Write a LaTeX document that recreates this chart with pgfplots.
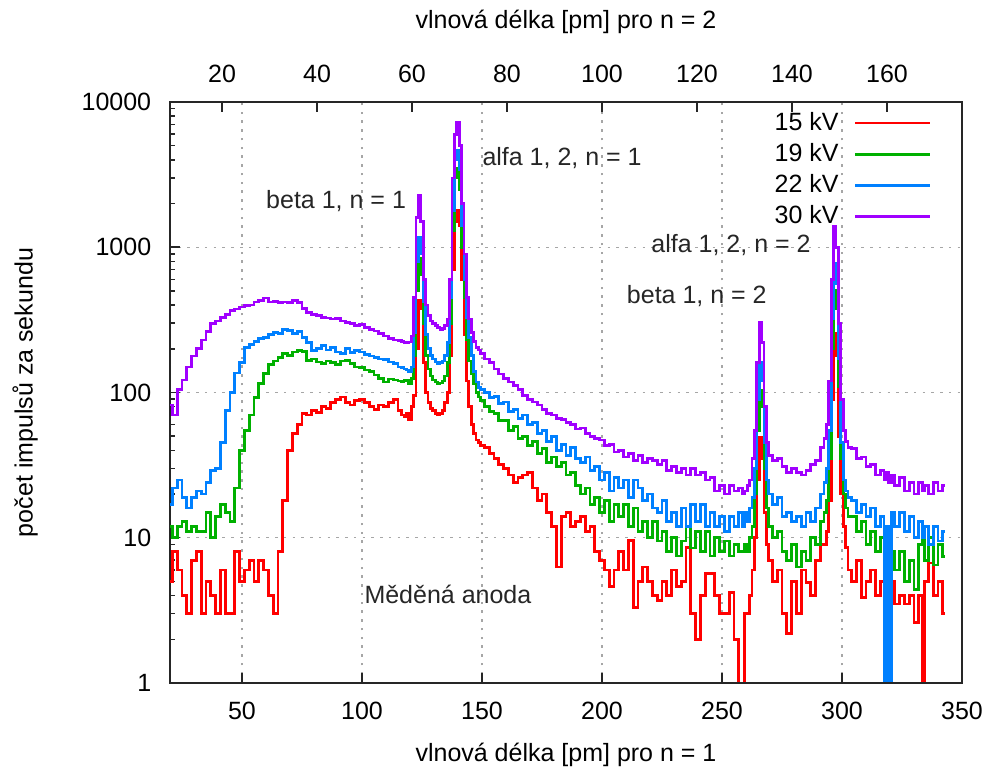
\documentclass[border=0pt]{standalone}
\usepackage{fontspec}
\setmainfont{Liberation Sans}
\usepackage{pgfplots}
\pgfplotsset{compat=1.18}
\usepackage{pgfplotstable}
\definecolor{cR}{RGB}{255,0,0}
\definecolor{cG}{RGB}{0,176,0}
\definecolor{cB}{RGB}{0,128,255}
\definecolor{cP}{RGB}{160,0,255}
\pgfplotstableread{
x r g b p
20 5 12 17 82
22 8 10 22 70
24 6 12 25 105
26 4 13 19 122
28 3 11 16 150
30 7 12 19 178
32 8 11 21 200
34 3 11 20 230
36 5 15 24 262
38 4 10 29 300
40 3 14 30 310
42 6 17 45 330
44 3 15 75 345
46 3 13 100 365
48 8 22 136 375
50 5 40 160 388
52 6 55 205 395
54 7 70 215 400
56 5 92 225 420
58 7 115 235 430
60 6 135 240 447
62 4 155 250 420
64 3 165 258 425
66 8 175 255 415
68 18 186 270 420
70 40 180 268 418
72 52 190 255 430
74 60 195 262 415
76 72 192 240 380
78 70 166 220 355
80 75 170 195 345
82 73 162 200 338
84 80 158 210 330
86 78 165 196 326
88 85 160 205 320
90 90 155 190 325
92 93 165 186 310
94 85 166 200 305
96 82 158 188 300
98 88 150 195 290
100 90 148 190 295
102 85 143 182 280
104 80 140 178 272
106 76 132 175 265
108 82 125 170 255
110 80 118 168 245
112 85 124 162 235
114 89 122 158 230
116 75 120 150 228
117 70 118 148 225
118 68 121 145 222
119 72 121 143 220
120 65 115 140 223
121 80 125 150 245
122 95 180 260 450
123 200 500 800 1600
124 433 843 1160 2290
125 380 650 900 1500
126 160 300 420 600
127 100 180 250 400
128 85 145 200 340
129 78 130 180 310
130 75 122 170 300
131 72 118 162 290
132 70 115 158 280
133 72 116 160 272
134 75 120 165 275
135 85 130 180 290
136 100 160 220 320
137 180 300 450 600
138 700 1300 1800 3000
139 1500 3000 4000 6000
140 1805 3515 4680 7280
141 1400 2500 3400 5000
142 600 1000 1400 2000
143 250 450 600 900
144 120 230 330 450
145 80 165 240 320
146 60 135 180 260
147 52 115 140 225
148 47 100 118 205
149 45 93 108 196
150 43 88 105 185
152 42 80 100 170
154 38 74 92 160
156 35 72 94 145
158 32 64 84 134
160 30 64 86 125
162 27 55 74 118
164 24 58 76 112
166 26 48 66 105
168 27 50 70 95
170 28 43 60 90
172 22 46 62 86
174 18 38 52 82
176 20 41 55 76
178 15 33 46 72
180 12 36 50 70
182 6.3 31 40 66
184 14 33 44 65
186 15 27 37 62
188 12 28 42 60
190 13 23 35 56
192 14 20 33 57
194 11 22 36 52
196 12 17 29 50
198 8 19 31 48
200 7 15 25 47
202 6 18 28 43
204 4.6 13 21 44
206 6 17 26 39
208 8 14 22 40
210 6 17 25 36
212 9.6 12 19 38
214 3.3 16 25 34
216 5 11 22 37
218 6.3 13 18 33
220 5 10 20 35
222 4 13 16 34
224 3.7 9.5 15 32
226 5 11 18 34
228 4 8 13 29
230 6 10 15 31
232 4.6 7.5 12 28
234 5 9.5 16 30
236 8.6 12 12 27
238 3 8.5 17 30
240 2 11 13 27
242 4 8 17 28
244 5.7 11 12 25
246 5.7 7.5 15 26
248 4 10 12 21
250 3 8 14 23
252 3 9.5 11 20
254 4.2 7.5 14 23
256 2 9 12 21
258 0.8 8 15 22
259 0.8 8 12 20
260 3 9 15 21
261 3 8 13 23
262 4 10 16 25
263 6 12 19 35
264 10 20 30 55
265 25 55 90 160
266 49 104 160 305
267 35 80 120 220
268 15 30 45 80
269 9 16 25 45
270 7 12 20 37
272 5 10 17 34
274 6 11 19 35
276 3 8 14 31
278 2.2 7 15 28
280 5 9 13 30
282 3 6.3 14 28
284 6 8 12 27
286 4.9 7 15 29
288 4 10 13 32
290 7 9 16 34
292 9 13 20 42
293 9 15 24 48
294 11 18 30 60
295 18 35 55 120
296 90 200 320 600
297 257 508 777 1400
298 180 380 560 1000
299 50 110 170 300
300 20 35 45 90
301 12 20 25 55
302 8.6 16 21 46
303 6 14 19 42
305 5 14 18 41
307 7 11 15 35
309 3.9 13 17 36
311 5 9 14 31
313 6 11 16 32
315 4 8 12 27
317 5 10 14 29
318 4 6 0.8 25
319 4.9 9 12 28
320 4 6 0.8 24
321 5 8 15 27
323 3.5 6 12 23
325 4 8 15 26
327 3.5 5 11 21
329 4 7 14 24
331 2.6 4.4 10 20
333 4 9 13 24
334 0.8 10 10 21
335 5 7 12 23
337 6.7 10 9 20
339 4 6.5 12 24
341 5 9 9.5 21
343 3 7.4 11 23
}\data
\begin{document}
\fontsize{10}{12}\selectfont
\begin{tikzpicture}
\begin{axis}[
  name=ax, scale only axis, width=316.8pt, height=232.4pt,
  xmin=20, xmax=350, ymode=log, ymin=1, ymax=10000,
  xtick={50,100,...,350}, xticklabels={50,100,150,200,250,300,350},
  ytick={1,10,100,1000,10000}, yticklabels={1,10,100,1000,10000},
  xtick pos=left, ytick pos=left, tick align=inside,
  major tick length=4pt, minor tick length=2pt,
  xticklabel shift=4pt, yticklabel shift=4pt,
  grid=major, major grid style={gray!70, line width=0.5pt, dash pattern=on 1pt off 2.5pt},
  axis line style={line width=0.6pt, black!85},
  every tick/.style={black!85, line width=0.6pt},
  xlabel={vlnová délka [pm] pro n = 1},
  ylabel={počet impulsů za sekundu},
  xlabel style={at={(axis description cs:0.5,-0.124)}, anchor=center},
  ylabel style={at={(axis description cs:-0.183,0.5)}, anchor=center},
  legend plot pos=right, legend cell align=right,
  legend image code/.code={\draw[#1, line width=1.1pt] (0pt,0pt) -- (30pt,0pt);},
  legend style={draw=none, fill=none, inner sep=0pt, at={(rel axis cs:0.962,0.992)}, anchor=north east, row sep=-0.3pt, column sep=4pt},
  clip=true,
]
\addplot[const plot mark mid, color=cR, line width=1.1pt] table[x=x,y=r]{\data};
\addlegendentry{15 kV}
\addplot[const plot mark mid, color=cG, line width=1.1pt] table[x=x,y=g]{\data};
\addlegendentry{19 kV}
\addplot[const plot mark mid, color=cB, line width=1.1pt] table[x=x,y=b]{\data};
\addlegendentry{22 kV}
\addplot[const plot mark mid, color=cP, line width=1.1pt] table[x=x,y=p]{\data};
\addlegendentry{30 kV}
\node[text=black!85] at (axis cs:89.2,2080) {beta 1, n = 1};
\node[text=black!85, anchor=west, inner sep=0pt] at (axis cs:150,4115) {alfa 1, 2, n = 1};
\node[text=black!85] at (axis cs:253.75,1036) {alfa 1, 2, n = 2};
\node[text=black!85] at (axis cs:239.5,462) {beta 1, n = 2};
\node[text=black!85] at (axis cs:135.8,4.04) {Měděná anoda};
\end{axis}
\begin{axis}[
  scale only axis, width=316.8pt, height=232.4pt,
  xmin=9.05, xmax=175.8, ymin=0, ymax=1, hide y axis,
  xtick={20,40,...,160}, xticklabels={20,40,60,80,100,120,140,160},
  xtick pos=right, xticklabel pos=right, tick align=inside,
  major tick length=4pt, xticklabel shift=4pt,
  axis line style={line width=0.6pt, black!85},
  every tick/.style={black!85, line width=0.6pt},
]
\end{axis}
\node at ([yshift=32pt]ax.north) {vlnová délka [pm] pro n = 2};
\pgfresetboundingbox
\path ([shift={(-68pt,-35.2pt)}]ax.south west) rectangle ([shift={(8pt,40.8pt)}]ax.north east);
\end{tikzpicture}
\end{document}
